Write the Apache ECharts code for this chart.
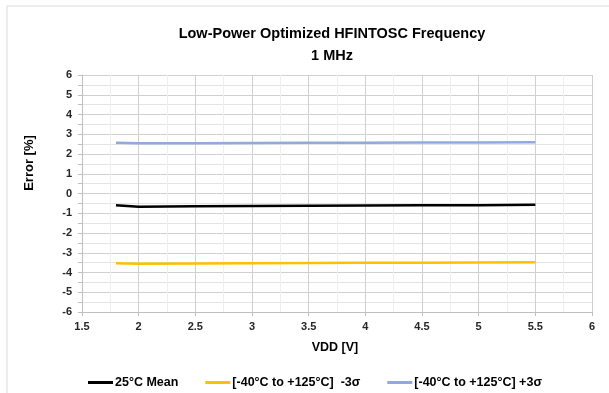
<!DOCTYPE html>
<html>
<head>
<meta charset="utf-8">
<script src="https://cdn.jsdelivr.net/npm/echarts@6/dist/echarts.min.js"></script>
<style>html,body{margin:0;padding:0;background:#fff;}#c{width:609px;height:393px;}</style>
</head>
<body>
<div id="c"></div>
<script>
const vdd = [1.8, 2.0, 2.5, 3.0, 3.5, 4.0, 4.5, 5.0, 5.5];
const mean25 = [-0.60, -0.67, -0.64, -0.63, -0.62, -0.61, -0.60, -0.59, -0.57];
const minus3s = [-3.53, -3.56, -3.54, -3.53, -3.52, -3.51, -3.50, -3.49, -3.48];
const plus3s = [2.57, 2.54, 2.55, 2.56, 2.57, 2.57, 2.58, 2.58, 2.59];
const seriesNames = ['25°C Mean', '[-40°C to +125°C]  -3σ', '[-40°C to +125°C] +3σ'];
const seriesColors = ['#000000', '#FFC000', '#8FAADC'];
const titleText = 'Low-Power Optimized HFINTOSC Frequency\n1 MHz';
const xName = 'VDD [V]';
const yName = 'Error [%]';

const FONT = '"Liberation Sans", Arial, sans-serif';
const pairs = a => vdd.map((x, i) => [x, a[i]]);
const allData = [mean25, minus3s, plus3s];

const chart = echarts.init(document.getElementById('c'), null, {renderer: 'canvas'});
chart.setOption({
  backgroundColor: '#ffffff',
  animation: false,
  title: {
    text: titleText,
    left: 327, top: 18, textAlign: 'center',
    textStyle: {fontFamily: FONT, fontWeight: 'bold', fontSize: 14.5, color: '#000', lineHeight: 22}
  },
  graphic: [
    {type: 'rect', shape: {x: 7, y: 6, width: 640, height: 420}, style: {fill: 'none', stroke: '#d9d9d9', lineWidth: 1}, silent: true},
    {type: 'text', x: 29, y: 163, rotation: Math.PI / 2,
     style: {text: yName, fontFamily: FONT, fontWeight: 'bold', fontSize: 13, fill: '#000', align: 'center', verticalAlign: 'middle'}}
  ],
  legend: {
    left: 83, top: 371,
    itemWidth: 25, itemHeight: 3, itemGap: 27,
    icon: 'rect',
    textStyle: {fontFamily: FONT, fontWeight: 'bold', fontSize: 12.5, color: '#000', padding: [0, 0, 0, -3]},
    data: seriesNames
  },
  grid: {left: 82, right: 17, top: 75, bottom: 81},
  xAxis: {
    type: 'value', min: 1.5, max: 6, interval: 0.5,
    name: xName, nameLocation: 'middle', nameGap: 29,
    nameTextStyle: {fontFamily: FONT, fontWeight: 'bold', fontSize: 12.5, color: '#000', padding: [0, 4, 0, 0]},
    axisLine: {onZero: false, lineStyle: {color: '#bfbfbf'}},
    axisTick: {show: true, inside: false, length: 4, lineStyle: {color: '#bfbfbf'}},
    axisLabel: {fontFamily: FONT, fontWeight: 'bold', fontSize: 11, color: '#262626', margin: 9},
    splitLine: {show: true, lineStyle: {color: '#d0d0d0'}},
    minorTick: {show: false, splitNumber: 2},
    minorSplitLine: {show: true, lineStyle: {color: '#efefef'}}
  },
  yAxis: {
    type: 'value', min: -6, max: 6, interval: 1,
    axisLine: {show: true, lineStyle: {color: '#bfbfbf'}},
    axisTick: {show: true, inside: false, length: 4, lineStyle: {color: '#bfbfbf'}},
    minorTick: {show: true, splitNumber: 2, length: 4, lineStyle: {color: '#bfbfbf'}},
    axisLabel: {fontFamily: FONT, fontWeight: 'bold', fontSize: 11, color: '#262626', margin: 10},
    splitLine: {show: true, lineStyle: {color: '#d0d0d0'}},
    minorSplitLine: {show: true, lineStyle: {color: '#e4e4e4'}}
  },
  series: seriesNames.map((n, i) => ({
    name: n, type: 'line', data: pairs(allData[i]),
    showSymbol: false, symbol: 'none',
    lineStyle: {color: seriesColors[i], width: 2.5},
    itemStyle: {color: seriesColors[i]}
  }))
});
</script>
</body>
</html>
